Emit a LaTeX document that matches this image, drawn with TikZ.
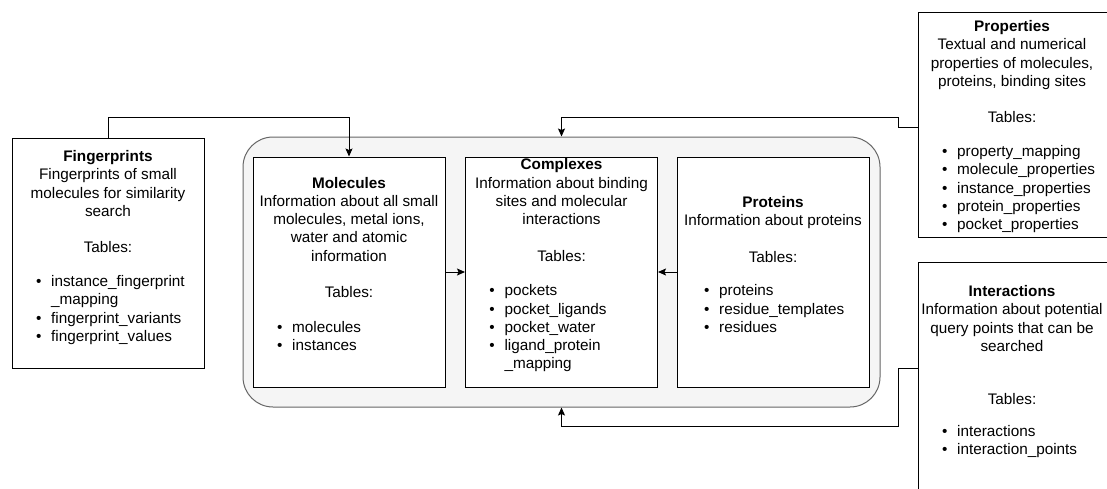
\documentclass[tikz,border=0pt]{standalone}
\usepackage{fontspec}
\setmainfont{Liberation Sans}
\usetikzlibrary{arrows.meta}

\definecolor{panelfill}{HTML}{F5F5F5}
\definecolor{panelline}{HTML}{666666}

% one bulleted table name; \tabcont indents a wrapped continuation line
\newcommand{\tabitem}[1]{\makebox[15.2pt][l]{•}#1}
\newcommand{\tabcont}[1]{\hspace*{15.2pt}#1}

\begin{document}
\begin{tikzpicture}[x=1pt,y=-1pt,
  every node/.style={font=\fontsize{15.3}{18.3}\selectfont},
  tablebox/.style={draw=black, line width=1pt, fill=white, inner sep=0pt,
                   minimum width=192pt},
  panel/.style={draw=panelline, fill=panelfill, line width=1pt, inner sep=0pt,
                rounded corners=30pt},
  header/.style={align=center, inner sep=0pt, anchor=north},
  itemlist/.style={align=left, inner sep=0pt, anchor=north west},
  link/.style={draw=black, line width=1pt,
               -{Stealth[length=8pt,width=7pt,inset=1.5pt]}},
]
\useasboundingbox (0,0) rectangle (1107,488);
\clip (0,0) rectangle (1107,488);

% database panel holding the three core groups
\node[panel, minimum width=637pt, minimum height=270pt] (db) at (561.5,272) {};

% table groups
\node[tablebox, minimum height=230pt] (fp)    at (108,253)   {};
\node[tablebox, minimum height=230pt] (mol)   at (349,272)   {};
\node[tablebox, minimum height=230pt] (cpx)   at (561.5,272) {};
\node[tablebox, minimum height=230pt] (prot)  at (773,272)   {};
\node[tablebox, minimum height=225pt] (prop)  at (1014,124.5) {};
\node[tablebox, minimum height=230pt] (inter) at (1014,377)  {};

% Fingerprints
\node[header] (fpH) at (108,149.2) {\rule{0pt}{12pt}\textbf{Fingerprints}\\
  Fingerprints of small\\molecules for similarity\\search\\[17.5pt]Tables:};
\node[itemlist] (fpL) at (35.8,274.2) {\rule{0pt}{12pt}\tabitem{instance\_fingerprint}\\
  \tabcont{\_mapping}\\\tabitem{fingerprint\_variants}\\\tabitem{fingerprint\_values}};

% Molecules
\node[header] (molH) at (349,175.8) {\rule{0pt}{12pt}\textbf{Molecules}\\
  Information about all small\\molecules, metal ions,\\water and atomic\\
  information\\[17.5pt]Tables:};
\node[itemlist] (molL) at (276.8,320.2) {\rule{0pt}{12pt}\tabitem{molecules}\\
  \tabitem{instances}};

% Complexes
\node[header] (cpxH) at (561.5,157.5) {\rule{0pt}{12pt}\textbf{Complexes}\\
  Information about binding\\sites and molecular\\interactions\\[18.3pt]Tables:};
\node[itemlist] (cpxL) at (489.1,283.5) {\rule{0pt}{12pt}\tabitem{pockets}\\
  \tabitem{pocket\_ligands}\\\tabitem{pocket\_water}\\\tabitem{ligand\_protein}\\
  \tabcont{\_mapping}};

% Proteins
\node[header] (protH) at (773,195.2) {\rule{0pt}{12pt}\textbf{Proteins}\\
  Information about proteins\\[18.3pt]Tables:};
\node[itemlist] (protL) at (703.8,283.5) {\rule{0pt}{12pt}\tabitem{proteins}\\
  \tabitem{residue\_templates}\\\tabitem{residues}};

% Properties
\node[header] (propH) at (1012,19.2) {\rule{0pt}{12pt}\textbf{Properties}\\
  Textual and numerical\\properties of molecules,\\proteins, binding sites\\[17.5pt]Tables:};
\node[itemlist] (propL) at (941.8,144.2) {\rule{0pt}{12pt}\tabitem{property\_mapping}\\
  \tabitem{molecule\_properties}\\\tabitem{instance\_properties}\\
  \tabitem{protein\_properties}\\\tabitem{pocket\_properties}};

% Interactions
\node[header] (interH) at (1012,284.2) {\rule{0pt}{12pt}\textbf{Interactions}\\
  Information about potential\\query points that can be\\searched\\[35pt]Tables:};
\node[itemlist] (interL) at (941.8,424.2) {\rule{0pt}{12pt}\tabitem{interactions}\\
  \tabitem{interaction\_points}};

% connectors
\draw[link] (fp.north) -- ++(0,-20) -| (mol.north);
\draw[link] ([yshift=-2.5pt]prop.west) -- ++(-19,0) -- ++(0,-10) -| (db.north);
\draw[link] ([yshift=9pt]inter.west) -- ++(-19,0) -- ++(0,58) -| (db.south);
\draw[link] (mol.east) -- (cpx.west);
\draw[link] (prot.west) -- (cpx.east);
\end{tikzpicture}
\end{document}
